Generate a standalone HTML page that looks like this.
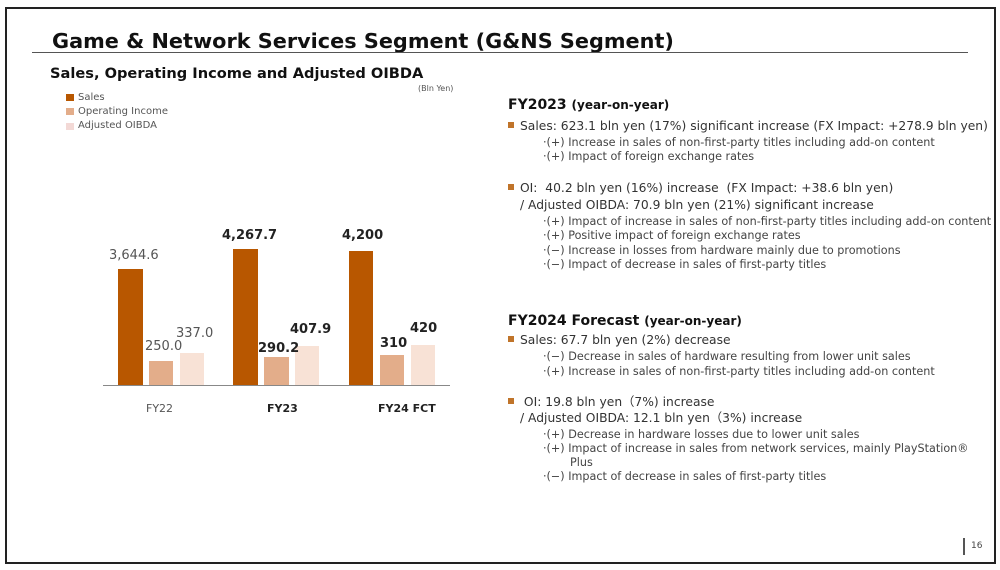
<!DOCTYPE html>
<html><head><meta charset="utf-8"><style>
body{margin:0;width:1000px;height:570px;background:#fff;position:relative;overflow:hidden;font-family:"DejaVu Sans","Liberation Sans",sans-serif;color:#333}
.t{position:absolute;white-space:nowrap;line-height:1}
.frame{position:absolute;left:5px;top:7px;width:987px;height:553px;border:2px solid #222}
.bar{position:absolute}
.s{background:#b85700}.o{background:#e3ad8a}.a{background:#f8e2d6}
.m{font-size:12.3px;color:#333}
.sub{font-size:11.2px;color:#444}
.sq{display:inline-block;width:6px;height:6px;background:#c0742a;margin-right:6px;vertical-align:2px}
</style></head><body>
<div class="frame"></div>
<div class="t" style="left:52px;top:31px;font-size:20.8px;font-weight:bold;color:#111">Game &amp; Network Services Segment (G&amp;NS Segment)</div>
<div style="position:absolute;left:32px;top:52px;width:936px;height:1px;background:#555"></div>
<div class="t" style="left:50px;top:67px;font-size:14.6px;font-weight:bold;color:#111">Sales, Operating Income and Adjusted OIBDA</div>
<div class="t" style="left:418px;top:85px;font-size:8px;color:#555">(Bln Yen)</div>
<div style="position:absolute;left:66px;top:94px;width:8px;height:7px;background:#b85700"></div>
<div class="t" style="left:78px;top:93px;font-size:10px;color:#555">Sales</div>
<div style="position:absolute;left:66px;top:108px;width:8px;height:7px;background:#e3ad8a"></div>
<div class="t" style="left:78px;top:107px;font-size:10px;color:#555">Operating Income</div>
<div style="position:absolute;left:66px;top:123px;width:8px;height:7px;background:#f3d9d6"></div>
<div class="t" style="left:78px;top:121px;font-size:10px;color:#555">Adjusted OIBDA</div>

<div class="bar s" style="left:118px;top:269px;width:25px;height:116px"></div>
<div class="bar o" style="left:149px;top:361px;width:24px;height:24px"></div>
<div class="bar a" style="left:180px;top:353px;width:24px;height:32px"></div>
<div class="bar s" style="left:233px;top:249px;width:25px;height:136px"></div>
<div class="bar o" style="left:264px;top:357px;width:25px;height:28px"></div>
<div class="bar a" style="left:295px;top:346px;width:24px;height:39px"></div>
<div class="bar s" style="left:349px;top:251px;width:24px;height:134px"></div>
<div class="bar o" style="left:380px;top:355px;width:24px;height:30px"></div>
<div class="bar a" style="left:411px;top:345px;width:24px;height:40px"></div>
<div style="position:absolute;left:103px;top:385px;width:347px;height:1px;background:#888"></div>

<div class="t" style="left:109px;top:249px;font-size:13px;color:#555">3,644.6</div>
<div class="t" style="left:145px;top:340px;font-size:13px;color:#555">250.0</div>
<div class="t" style="left:176px;top:327px;font-size:13px;color:#555">337.0</div>
<div class="t" style="left:222px;top:229px;font-size:13px;font-weight:bold;color:#222">4,267.7</div>
<div class="t" style="left:258px;top:342px;font-size:13px;font-weight:bold;color:#222">290.2</div>
<div class="t" style="left:290px;top:323px;font-size:13px;font-weight:bold;color:#222">407.9</div>
<div class="t" style="left:342px;top:229px;font-size:13px;font-weight:bold;color:#222">4,200</div>
<div class="t" style="left:380px;top:337px;font-size:13px;font-weight:bold;color:#222">310</div>
<div class="t" style="left:410px;top:322px;font-size:13px;font-weight:bold;color:#222">420</div>
<div class="t" style="left:146px;top:403px;font-size:11px;color:#555">FY22</div>
<div class="t" style="left:267px;top:403px;font-size:11px;font-weight:bold;color:#222">FY23</div>
<div class="t" style="left:378px;top:403px;font-size:11px;font-weight:bold;color:#222">FY24 FCT</div>

<div class="t" style="left:508px;top:98px;font-size:14px;font-weight:bold;color:#111">FY2023 <span style="font-size:12px">(year-on-year)</span></div>
<div class="t m" style="left:508px;top:120px"><span class="sq"></span>Sales: 623.1 bln yen (17%) significant increase (FX Impact: +278.9 bln yen)</div>
<div class="t sub" style="left:543px;top:137px">·(+) Increase in sales of non-first-party titles including add-on content</div>
<div class="t sub" style="left:543px;top:151px">·(+) Impact of foreign exchange rates</div>
<div class="t m" style="left:508px;top:182px"><span class="sq"></span>OI:&nbsp; 40.2 bln yen (16%) increase&nbsp; (FX Impact: +38.6 bln yen)</div>
<div class="t m" style="left:520px;top:199px">/ Adjusted OIBDA: 70.9 bln yen (21%) significant increase</div>
<div class="t sub" style="left:543px;top:216px">·(+) Impact of increase in sales of non-first-party titles including add-on content</div>
<div class="t sub" style="left:543px;top:230px">·(+) Positive impact of foreign exchange rates</div>
<div class="t sub" style="left:543px;top:245px">·(−) Increase in losses from hardware mainly due to promotions</div>
<div class="t sub" style="left:543px;top:259px">·(−) Impact of decrease in sales of first-party titles</div>

<div class="t" style="left:508px;top:314px;font-size:14px;font-weight:bold;color:#111">FY2024 Forecast <span style="font-size:12px">(year-on-year)</span></div>
<div class="t m" style="left:508px;top:334px"><span class="sq"></span>Sales: 67.7 bln yen (2%) decrease</div>
<div class="t sub" style="left:543px;top:351px">·(−) Decrease in sales of hardware resulting from lower unit sales</div>
<div class="t sub" style="left:543px;top:366px">·(+) Increase in sales of non-first-party titles including add-on content</div>
<div class="t m" style="left:508px;top:396px"><span class="sq"></span>&nbsp;OI: 19.8 bln yen（7%) increase</div>
<div class="t m" style="left:520px;top:412px">/ Adjusted OIBDA: 12.1 bln yen（3%) increase</div>
<div class="t sub" style="left:543px;top:429px">·(+) Decrease in hardware losses due to lower unit sales</div>
<div class="t sub" style="left:543px;top:443px">·(+) Impact of increase in sales from network services, mainly PlayStation®</div>
<div class="t sub" style="left:570px;top:457px">Plus</div>
<div class="t sub" style="left:543px;top:471px">·(−) Impact of decrease in sales of first-party titles</div>

<div style="position:absolute;left:963px;top:538px;width:2px;height:17px;background:#555"></div>
<div class="t" style="left:971px;top:542px;font-size:9px;color:#444">16</div>
</body></html>
